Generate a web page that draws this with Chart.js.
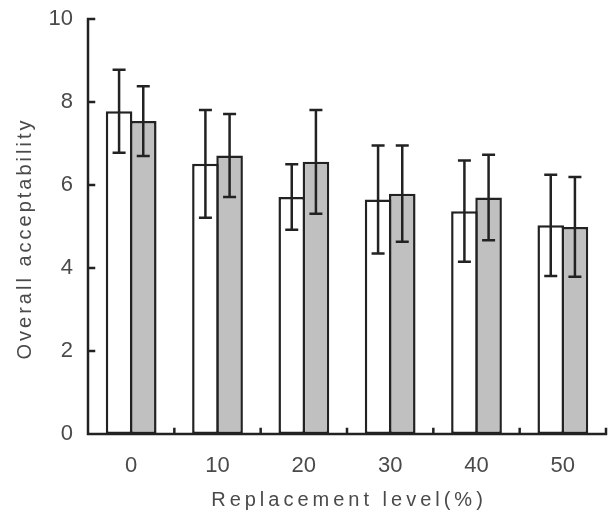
<!DOCTYPE html>
<html>
<head>
<meta charset="utf-8">
<script src="https://cdn.jsdelivr.net/npm/chart.js@4/dist/chart.umd.min.js"></script>
<style>
  html, body { margin: 0; padding: 0; background: #fff; }
  #wrap { width: 615px; height: 514px; }
</style>
</head>
<body>
<div id="wrap"><canvas id="chart" width="615" height="514"></canvas></div>
<script>
const categories = ["0", "10", "20", "30", "40", "50"];
const whiteMeans = [7.78, 6.51, 5.71, 5.65, 5.37, 5.03];
const whiteErr = [1.00, 1.30, 0.79, 1.30, 1.22, 1.22];
const grayMeans = [7.54, 6.71, 6.56, 5.79, 5.70, 4.99];
const grayErr = [0.84, 1.00, 1.25, 1.16, 1.03, 1.20];
const yTitle = "Overall acceptability";
const xTitle = "Replacement level(%)";

const INK = "#222";
const TEXT = "#4a4a4a";
const FONT = "'Liberation Sans', Arial, sans-serif";

// error bars, drawn from the y scale
const errorBars = {
    id: "errorBars",
    afterDatasetsDraw(chart) {
        const ctx = chart.ctx, y = chart.scales.y;
        ctx.save();
        ctx.strokeStyle = INK;
        ctx.lineWidth = 2.5;
        chart.data.datasets.forEach((ds, i) => {
            const meta = chart.getDatasetMeta(i);
            meta.data.forEach((bar, j) => {
                const hi = y.getPixelForValue(ds.data[j] + ds.err[j]),
                    lo = y.getPixelForValue(ds.data[j] - ds.err[j]),
                    x = bar.x, cap = 6.5;
                ctx.beginPath();
                ctx.moveTo(x, hi); ctx.lineTo(x, lo);
                ctx.moveTo(x - cap, hi); ctx.lineTo(x + cap, hi);
                ctx.moveTo(x - cap, lo); ctx.lineTo(x + cap, lo);
                ctx.stroke();
            });
        });
        ctx.restore();
    }
};

// axis lines with inward ticks, plus spaced-out axis titles
const axesAndTitles = {
    id: "axesAndTitles",
    afterDraw(chart) {
        const ctx = chart.ctx, {left, right, top, bottom} = chart.chartArea;
        const xs = chart.scales.x, ys = chart.scales.y;
        ctx.save();
        ctx.strokeStyle = INK;
        ctx.lineWidth = 2.5;
        ctx.lineCap = "square";
        ctx.beginPath();
        ctx.moveTo(left, top); ctx.lineTo(left, bottom); ctx.lineTo(right, bottom);
        ys.ticks.forEach(t => {
            const py = ys.getPixelForValue(t.value);
            ctx.moveTo(left, py); ctx.lineTo(left + 6, py);
        });
        for (let i = 0; i < categories.length; i++) {
            const px = xs.getPixelForValue(i + 0.5);
            ctx.moveTo(px, bottom); ctx.lineTo(px, bottom - 5);
        }
        ctx.stroke();

        ctx.fillStyle = TEXT;
        ctx.font = "20px " + FONT;
        ctx.textAlign = "center";
        ctx.textBaseline = "middle";
        ctx.letterSpacing = "4px";
        ctx.fillText(xTitle, (left + right) / 2 + 2, 500);

        ctx.letterSpacing = "3px";
        ctx.translate(25, (top + bottom) / 2 + 12);
        ctx.rotate(-Math.PI / 2);
        ctx.fillText(yTitle, 0, 0);
        ctx.restore();
    }
};

new Chart(document.getElementById("chart"), {
    type: "bar",
    data: {
        labels: categories,
        datasets: [
            {data: whiteMeans, err: whiteErr, backgroundColor: "#ffffff",
             borderColor: INK, borderWidth: 2.5, borderSkipped: false},
            {data: grayMeans, err: grayErr, backgroundColor: "#c0c0c0",
             borderColor: INK, borderWidth: 2.5, borderSkipped: false}
        ]
    },
    options: {
        responsive: false,
        animation: false,
        events: [],
        layout: {padding: {top: 19, right: 9, left: 0, bottom: 0}},
        datasets: {bar: {categoryPercentage: 0.56, barPercentage: 1.1}},
        plugins: {legend: {display: false}, tooltip: {enabled: false}},
        scales: {
            x: {
                grid: {display: false, drawTicks: false},
                border: {display: false},
                ticks: {color: TEXT, font: {family: FONT, size: 22}, padding: 19},
                afterFit(s) { s.height = 80; s.paddingLeft = 0; s.paddingRight = 0; }
            },
            y: {
                min: 0, max: 10,
                grid: {display: false, drawTicks: false},
                border: {display: false},
                ticks: {stepSize: 2, color: TEXT, font: {family: FONT, size: 22}, padding: 15},
                afterFit(s) { s.width = 88; s.paddingTop = 0; s.paddingBottom = 0; }
            }
        }
    },
    plugins: [errorBars, axesAndTitles]
});
</script>
</body>
</html>
